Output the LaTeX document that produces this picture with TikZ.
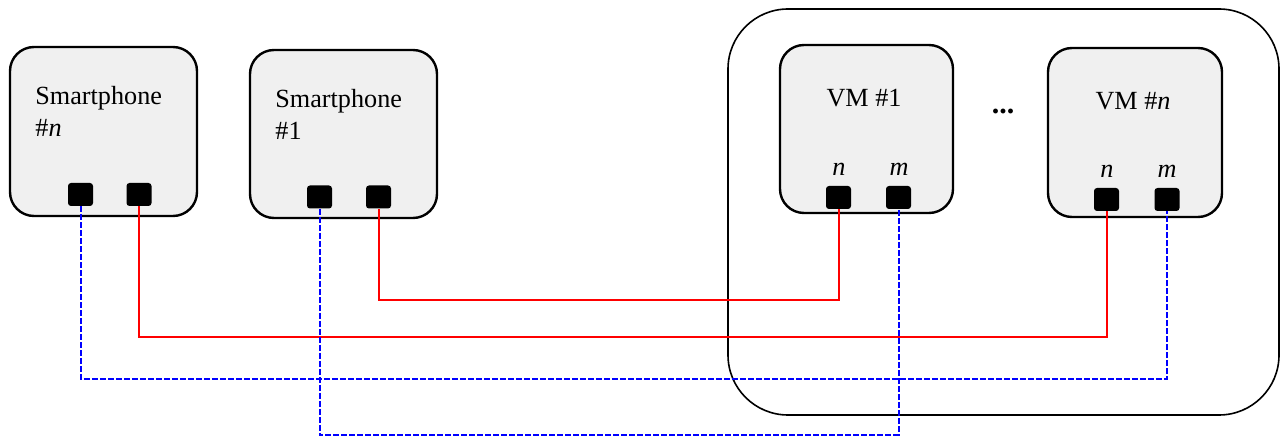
\documentclass[tikz,border=0pt]{standalone}
\usepackage{fontspec}
\setmainfont{Liberation Serif}
\usepackage{tikz}
\usetikzlibrary{positioning,calc}
\definecolor{BoxFill}{HTML}{F0F0F0}

\begin{document}
\begin{tikzpicture}[x=0.5pt,y=-0.5pt,
    font=\fontsize{13.1}{16}\selectfont,
    device/.style={draw=black, line width=1.2pt, rounded corners=12pt, fill=BoxFill,
      minimum width=#1, inner sep=0pt},
    host/.style={draw=black, line width=0.8pt, rounded corners=30pt,
      minimum width=275.5pt, minimum height=203pt, inner sep=0pt},
    port/.style={fill=black, rounded corners=1.5pt, minimum width=12.5pt,
      minimum height=11.5pt, inner sep=0pt},
    lbl/.style={inner sep=0pt, anchor=base west},
    dataln/.style={red, line width=1pt},
    ctrlln/.style={blue, line width=1pt, dash pattern=on 3pt off 1pt}
  ]
    \useasboundingbox (0,0) rectangle (1286,438);
    \node[host] (cloud) at (1003.5,212) {};
    \node[device=93.5pt, minimum height=84.5pt] (spn) at (103.5,131.5) {};
    \node[device=93.5pt, minimum height=84pt] (sp1) at (343.5,134) {};
    \node[device=86.5pt, minimum height=84pt] (vm1) at (866.5,129) {};
    \node[device=87pt, minimum height=84.5pt] (vmn) at (1135,132.5) {};
    \node[lbl] (spn-t1) at (35,105) {Smartphone};
    \node[lbl] (spn-t2) at (35,137) {\#\textit{n}};
    \node[lbl] (sp1-t1) at (275,108) {Smartphone};
    \node[lbl] (sp1-t2) at (275,140) {\#1};
    \node[inner sep=0pt, anchor=base] (vm1-t) at (864,107) {VM \#1};
    \node[inner sep=0pt, anchor=base] (vmn-t) at (1133,110) {VM \#\textit{n}};
    \node[inner sep=0pt, anchor=base, font=\fontsize{15}{16}\selectfont] (dots) at (1003,114) {\textbf{...}};
    \node[inner sep=0pt, anchor=base] (vm1-n) at (839,176) {\textit{n}};
    \node[inner sep=0pt, anchor=base] (vm1-m) at (899,176) {\textit{m}};
    \node[inner sep=0pt, anchor=base] (vmn-n) at (1107,178) {\textit{n}};
    \node[inner sep=0pt, anchor=base] (vmn-m) at (1167,178) {\textit{m}};
    \coordinate (r1) at (600,300);
    \coordinate (r2) at (600,337);
    \coordinate (b1) at (600,379);
    \coordinate (b2) at (600,435);
    \node[port] (spn-a) at (80.5,194.5) {};
    \node[port] (spn-b) at (139,194.5) {};
    \node[port] (sp1-a) at (319.5,197) {};
    \node[port] (sp1-b) at (378.5,197) {};
    \node[port] (vm1-a) at (838.5,197.5) {};
    \node[port] (vm1-b) at (898.5,197.5) {};
    \node[port] (vmn-a) at (1106.5,199.5) {};
    \node[port] (vmn-b) at (1167,199.5) {};
    \draw[dataln] (sp1-b.south) |- (r1) -| (vm1-a.south);
    \draw[dataln] (spn-b.south) |- (r2) -| (vmn-a.south);
    \draw[ctrlln] (spn-a.south) |- (b1) -| (vmn-b.south);
    \draw[ctrlln] (sp1-a.south) |- (b2) -| (vm1-b.south);
  \end{tikzpicture}
\end{document}
